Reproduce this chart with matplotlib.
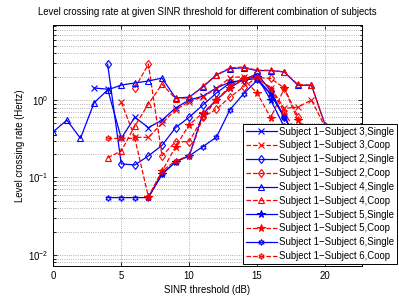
import matplotlib

matplotlib.use("Agg")
import matplotlib.pyplot as plt

plt.rcParams["font.family"] = ["Liberation Sans", "DejaVu Sans"]
plt.rcParams["font.size"] = 6.9

BLUE = "#0000ff"
RED = "#ff0000"

# x-start and values for each curve
s3_single_x0, s3_single = 3, [1.43, 1.38, 0.32, 0.6, 0.44, 0.55, 0.79, 1.0, 1.12, 1.43,
                               1.7, 1.8, 1.9, 1.2, 0.6, 0.3, 0.15, 0.08]
s3_coop_x0, s3_coop = 5, [0.94, 0.33, 0.33, 0.5, 0.75, 0.95, 1.1, 1.4, 1.95, 2.0, 1.9,
                          1.45, 0.78, 0.81, 1.0, 0.45, 0.2]
s2_single_x0, s2_single = 4, [2.9, 0.15, 0.145, 0.19, 0.26, 0.44, 0.6, 0.86, 1.23, 1.66,
                              1.8, 2.2, 1.3, 0.6, 0.3, 0.15, 0.07]
s2_coop_x0, s2_coop = 6, [1.43, 2.9, 0.19, 0.29, 0.29, 0.6, 0.76, 1.09, 1.48, 1.95, 1.9,
                          1.43, 0.61, 0.3, 0.15]
s4_single_x0, s4_single = 0, [0.39, 0.55, 0.32, 0.92, 1.35, 1.56, 1.66, 1.76, 1.92, 1.06,
                              1.09, 1.47, 2.1, 2.55, 2.6, 2.4, 2.4, 2.3, 1.55, 1.55, 0.48]
s4_coop_x0, s4_coop = 4, [0.18, 0.22, 0.46, 0.89, 1.6, 1.04, 1.07, 1.5, 2.1, 2.6, 2.67,
                          2.42, 2.42, 2.31, 1.59, 1.56, 0.48]
s5_single_x0, s5_single = 7, [0.056, 0.11, 0.16, 0.19, 0.66, 1.0, 1.43, 1.86, 2.0, 1.0,
                              0.45, 0.2, 0.1]
s5_coop_x0, s5_coop = 7, [0.056, 0.12, 0.25, 0.48, 0.68, 1.0, 1.43, 1.86, 1.23, 0.59,
                          1.41, 0.55, 0.3, 0.15]
s6_single_x0, s6_single = 4, [0.055, 0.055, 0.055, 0.055, 0.11, 0.16, 0.19, 0.25, 0.33,
                              0.75, 1.2, 1.8, 1.2, 0.6, 0.3, 0.15, 0.07]
s6_coop_x0, s6_coop = 4, [0.32, 0.32, 0.32, 0.056, 0.12, 0.165, 0.19, 0.6, 1.0, 1.5,
                          1.95, 2.0, 1.4, 0.7, 0.35, 0.15, 0.07]

series = [
    ("Subject 1\u2212Subject 3,Single", s3_single_x0, s3_single, BLUE, "-", "x", True),
    ("Subject 1\u2212Subject 3,Coop", s3_coop_x0, s3_coop, RED, "--", "x", True),
    ("Subject 1\u2212Subject 2,Single", s2_single_x0, s2_single, BLUE, "-", "d", False),
    ("Subject 1\u2212Subject 2,Coop", s2_coop_x0, s2_coop, RED, "--", "d", False),
    ("Subject 1\u2212Subject 4,Single", s4_single_x0, s4_single, BLUE, "-", "^", False),
    ("Subject 1\u2212Subject 4,Coop", s4_coop_x0, s4_coop, RED, "--", "^", False),
    ("Subject 1\u2212Subject 5,Single", s5_single_x0, s5_single, BLUE, "-", "*", True),
    ("Subject 1\u2212Subject 5,Coop", s5_coop_x0, s5_coop, RED, "--", "*", True),
    ("Subject 1\u2212Subject 6,Single", s6_single_x0, s6_single, BLUE, "-", (6, 1, 0), False),
    ("Subject 1\u2212Subject 6,Coop", s6_coop_x0, s6_coop, RED, "--", (6, 1, 0), False),
]

fig = plt.figure(figsize=(3.99, 3.0), dpi=100)
ax = fig.add_axes([0.1336, 0.1133, 0.773, 0.8034])

for label, x0, vals, color, ls, marker, filled in series:
    xs = list(range(x0, x0 + len(vals)))
    ms = 5.5 if marker == "*" else 4.3
    ax.plot(xs, vals, color=color, ls=ls, lw=0.9, marker=marker, ms=ms,
            mfc=color if filled else "none", mec=color, mew=0.8, label=label)

ax.set_yscale("log")
ax.set_xlim(0, 22.7)
ax.set_ylim(0.0072, 9.3)
ax.set_xticks([0, 5, 10, 15, 20])
ax.grid(True, which="major", axis="x", ls=":", color="0.6", lw=0.6)
ax.grid(True, which="both", axis="y", ls=":", color="0.6", lw=0.6)
ax.tick_params(which="both", direction="in", top=True, right=True, length=3, width=0.6)
ax.tick_params(which="minor", length=1.8)
for sp in ax.spines.values():
    sp.set_linewidth(0.7)

ax.set_title("Level crossing rate at given SINR threshold for different combination of subjects",
             fontsize=6.9, pad=7)
ax.set_xlabel("SINR threshold (dB)", labelpad=3)
ax.set_ylabel("Level crossing rate (Hertz)", labelpad=2)

leg = ax.legend(loc="lower left", bbox_to_anchor=(0.609, 0.12),
                bbox_transform=fig.transFigure, frameon=True, fancybox=False,
                edgecolor="black", framealpha=1, handlelength=3.2,
                borderpad=0.3, labelspacing=0.4, handletextpad=0.3, borderaxespad=0)
leg.get_frame().set_linewidth(0.7)

fig.savefig("out.png", dpi=100)
